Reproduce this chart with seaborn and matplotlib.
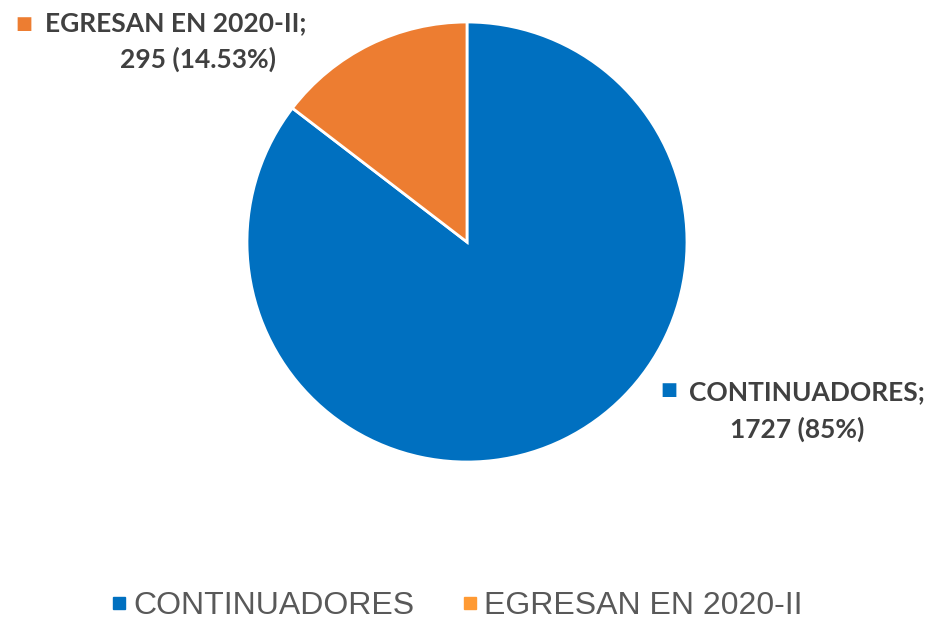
import matplotlib
matplotlib.use("Agg")
import matplotlib.pyplot as plt
from matplotlib.lines import Line2D
import seaborn as sns

# data
categories = ["CONTINUADORES", "EGRESAN EN 2020-II"]
values = [1727, 295]
pct_labels = ["85%", "14.53%"]
slice_colors = ["#0070C0", "#ED7D31"]
legend_colors = ["#0070C0", "#FF9A33"]

sns.set_theme(style="white")
plt.rcParams['font.family'] = ['Lato', 'DejaVu Sans']

fig = plt.figure(figsize=(9.31, 6.2), dpi=100)
ax = fig.add_axes([0.2653, 0.2548, 0.4726, 0.7097])

wedges, _ = ax.pie(values, colors=slice_colors, startangle=90, counterclock=False,
                   radius=1, wedgeprops=dict(edgecolor="white", linewidth=2))
ax.set_xlim(-1, 1)
ax.set_ylim(-1, 1)
ax.set_aspect("equal")
ax.axis("off")

label_color = "#404040"
lab_size = 19
# label for EGRESAN slice (top left)
fig.text(15 / 931, 1 - 24 / 620, "■", color=slice_colors[1], fontsize=13,
         ha="left", va="center", family=["DejaVu Sans"])
fig.text(45 / 931, 1 - 23 / 620, f"{categories[1]};", color=label_color, fontsize=lab_size,
         fontweight="bold", ha="left", va="center")
fig.text(198 / 931, 1 - 59 / 620, f"{values[1]} ({pct_labels[1]})", color=label_color,
         fontsize=lab_size, fontweight="bold", ha="center", va="center")

# label for CONTINUADORES slice (right)
fig.text(660 / 931, 1 - 390 / 620, "■", color=slice_colors[0], fontsize=13,
         ha="left", va="center", family=["DejaVu Sans"])
fig.text(689 / 931, 1 - 392 / 620, f"{categories[0]};", color=label_color, fontsize=lab_size,
         fontweight="bold", ha="left", va="center")
fig.text(797 / 931, 1 - 429 / 620, f"{values[0]} ({pct_labels[0]})", color=label_color,
         fontsize=lab_size, fontweight="bold", ha="center", va="center")

handles = [Line2D([0], [0], marker="s", linestyle="", markersize=9,
                  markerfacecolor=c, markeredgecolor=c) for c in legend_colors]
leg = fig.legend(handles, categories, loc="center", bbox_to_anchor=(456 / 931, 1 - 606 / 620),
                 ncol=2, frameon=False, handletextpad=0.15, columnspacing=1.45,
                 handlelength=0.6, borderpad=0, prop={"family": "Liberation Sans", "size": 23})
for t in leg.get_texts():
    t.set_color("#595959")

fig.savefig("out.png", dpi=100)
